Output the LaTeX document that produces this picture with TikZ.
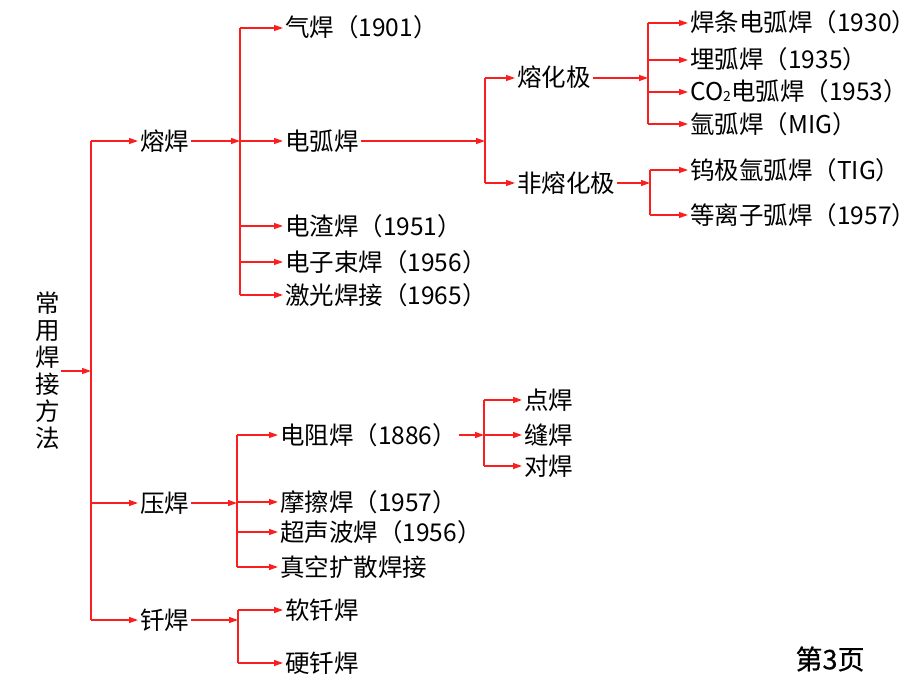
\documentclass[tikz,border=0pt]{standalone}
\usepackage{fontspec}
\newfontfamily\cjk{Noto Sans CJK SC}
\newfontfamily\cjkb{Noto Sans CJK SC}[FakeBold=0.6]
\usetikzlibrary{arrows.meta}
\definecolor{lnred}{RGB}{250,30,30}
\begin{document}
\begin{tikzpicture}[x=1pt,y=-1pt,
  lbl/.style={font=\cjk\fontsize{24.5}{27}\selectfont, inner sep=2pt, anchor=west, text height=18.5pt, text depth=0.5pt},
  ln/.style={draw=lnred, line width=1.3pt},
  arr/.style={ln, -{Triangle[length=9pt,width=6pt]}}]
\useasboundingbox (0,0) rectangle (920,690);
\fill[white] (0,0) rectangle (920,690);

% root
\node[font=\cjk\fontsize{24.5}{27}\selectfont, align=center, inner sep=1pt] (root) at (48,371) {常\\用\\焊\\接\\方\\法};

% level 1
\node[lbl] (rh) at (138,141) {熔焊};
\node[lbl] (yh) at (138,503) {压焊};
\node[lbl] (qh) at (138,620) {钎焊};

% level 2 (fusion)
\node[lbl] (qih)  at (283,28)  {气焊（1901）};
\node[lbl] (dhh)  at (283,141) {电弧焊};
\node[lbl] (dzh)  at (283,226) {电渣焊（1951）};
\node[lbl] (dzsh) at (283,262) {电子束焊（1956）};
\node[lbl] (jg)   at (283,295) {激光焊接（1965）};

% level 3
\node[lbl] (rhj)  at (515,78)  {熔化极};
\node[lbl] (frhj) at (515,183) {非熔化极};

\node[lbl] (a1) at (688,23)  {焊条电弧焊（1930）};
\node[lbl] (a2) at (688,60)  {埋弧焊（1935）};
\node[lbl] (a3) at (688,92)  {CO\raisebox{-1pt}{\fontsize{14}{14}\selectfont 2}电弧焊（1953）};
\node[lbl] (a4) at (688,124) {氩弧焊（MIG）};
\node[lbl] (b1) at (688,170) {钨极氩弧焊（TIG）};
\node[lbl] (b2) at (688,215) {等离子弧焊（1957）};

% pressure welding
\node[lbl] (c1) at (278,435) {电阻焊（1886）};
\node[lbl] (c2) at (278,502) {摩擦焊（1957）};
\node[lbl] (c3) at (278,532) {超声波焊（1956）};
\node[lbl] (c4) at (278,567) {真空扩散焊接};

\node[lbl] (d1) at (522,400) {点焊};
\node[lbl] (d2) at (522,435) {缝焊};
\node[lbl] (d3) at (522,466) {对焊};

% brazing
\node[lbl] (e1) at (283,610) {软钎焊};
\node[lbl] (e2) at (283,663) {硬钎焊};

% page label
\node[font=\cjkb\fontsize{27}{30}\selectfont, inner sep=0pt] (pg) at (830,659) {第3页};

% bus coordinates
\coordinate (B1) at (91,0);
\coordinate (B2) at (240,0);
\coordinate (B3) at (485,0);
\coordinate (B4) at (648,0);
\coordinate (B5) at (650,0);
\coordinate (B6) at (237,0);
\coordinate (B7) at (484,0);
\coordinate (B8) at (238,0);

% root -> bus1
\draw[arr] (root.east) -- (B1 |- root.east);
\draw[ln] (B1 |- rh) -- (B1 |- qh);
\foreach \n in {rh,yh,qh} \draw[arr] (B1 |- \n) -- (\n.west);

% fusion
\draw[arr] (rh.east) -- (B2 |- rh);
\draw[ln] (B2 |- qih) -- (B2 |- jg);
\foreach \n in {qih,dhh,dzh,dzsh,jg} \draw[arr] (B2 |- \n) -- (\n.west);

\draw[arr] (dhh.east) -- (B3 |- dhh);
\draw[ln] (B3 |- rhj) -- (B3 |- frhj);
\foreach \n in {rhj,frhj} \draw[arr] (B3 |- \n) -- (\n.west);

\draw[arr] (rhj.east) -- (B4 |- rhj);
\draw[ln] (B4 |- a1) -- (B4 |- a4);
\foreach \n in {a1,a2,a3,a4} \draw[arr] (B4 |- \n) -- (\n.west);

\draw[arr] (frhj.east) -- (B5 |- frhj);
\draw[ln] (B5 |- b1) -- (B5 |- b2);
\foreach \n in {b1,b2} \draw[arr] (B5 |- \n) -- (\n.west);

% pressure
\draw[arr] (yh.east) -- (B6 |- yh);
\draw[ln] (B6 |- c1) -- (B6 |- c4);
\foreach \n in {c1,c2,c3,c4} \draw[arr] (B6 |- \n) -- (\n.west);

\draw[arr] (c1.east) -- (B7 |- c1);
\draw[ln] (B7 |- d1) -- (B7 |- d3);
\foreach \n in {d1,d2,d3} \draw[arr] (B7 |- \n) -- (\n.west);

% brazing
\draw[arr] (qh.east) -- (B8 |- qh);
\draw[ln] (B8 |- e1) -- (B8 |- e2);
\foreach \n in {e1,e2} \draw[arr] (B8 |- \n) -- (\n.west);
\end{tikzpicture}
\end{document}
